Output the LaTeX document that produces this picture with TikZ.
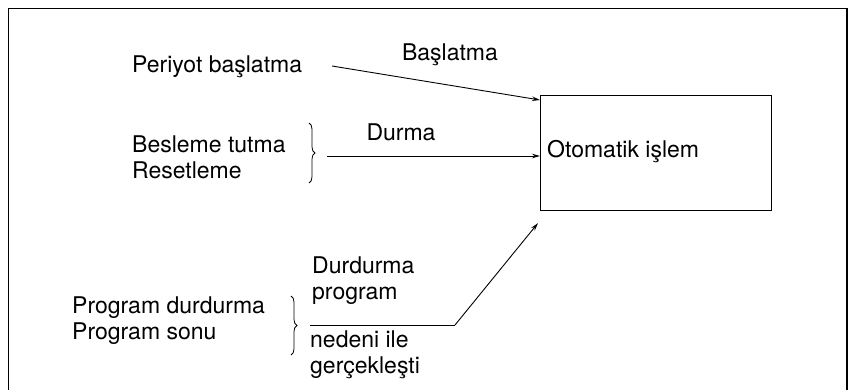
\documentclass[tikz,border=0pt]{standalone}
\usepackage{fontspec}
\setmainfont{TeX Gyre Heros}
\usetikzlibrary{positioning,arrows.meta,decorations.pathreplacing}

\begin{document}
\begin{tikzpicture}[x=1pt,y=-1pt,
 t/.style={inner sep=0pt,anchor=west,align=left,font=\fontsize{23}{26}\selectfont},
 box/.style={draw,line width=1.1pt,minimum width=231pt,minimum height=115pt,inner sep=0pt},
 a/.style={-{Stealth[length=8pt,width=4.5pt]},line width=.9pt},
 l/.style={line width=.9pt},
 br/.style={decorate,decoration={brace,amplitude=6pt},line width=.8pt}]
\useasboundingbox (0,0) rectangle (854,390);
\draw[line width=1.8pt] (8.5,395) -- (8.5,8.5) -- (847,8.5) -- (847,395);
\node[box,anchor=north west] (oto) at (540,95) {};
\node[t] (otot) at (547,152) {Otomatik işlem};
\node[t] (per) at (132,67) {Periyot başlatma};
\node[t,anchor=center] (bas) at (450,55) {Başlatma};
\node[t] (bes) at (132,157.5) {Besleme tutma\\Resetleme};
\node[t,anchor=center] (dur) at (401,132) {Durma};
\node[t] (prg) at (72,321) {Program durdurma\\Program sonu};
\node[t] (dpr) at (312,280.5) {Durdurma\\program};
\node[t] (ned) at (310,354.5) {nedeni ile\\gerçekleşti};
\coordinate (b1) at (309,123);
\coordinate (b2) at (309,183);
\coordinate (b3) at (291,296);
\coordinate (b4) at (291,355);
\coordinate (s1) at (327,156);
\coordinate (s2) at (310,325);
\coordinate (k) at (455,325);
\draw[br] (b1) -- (b2);
\draw[br] (b3) -- (b4);
\draw[a] ([xshift=200pt,yshift=1pt]per.west) -- ([yshift=-5pt]oto.north west);
\draw[a] (s1) -- (oto.west |- s1);
\draw[l] (s2) -- (k);
\draw[a] (k) -- ([xshift=-2pt,yshift=-12pt]oto.south west);
\end{tikzpicture}
\end{document}
